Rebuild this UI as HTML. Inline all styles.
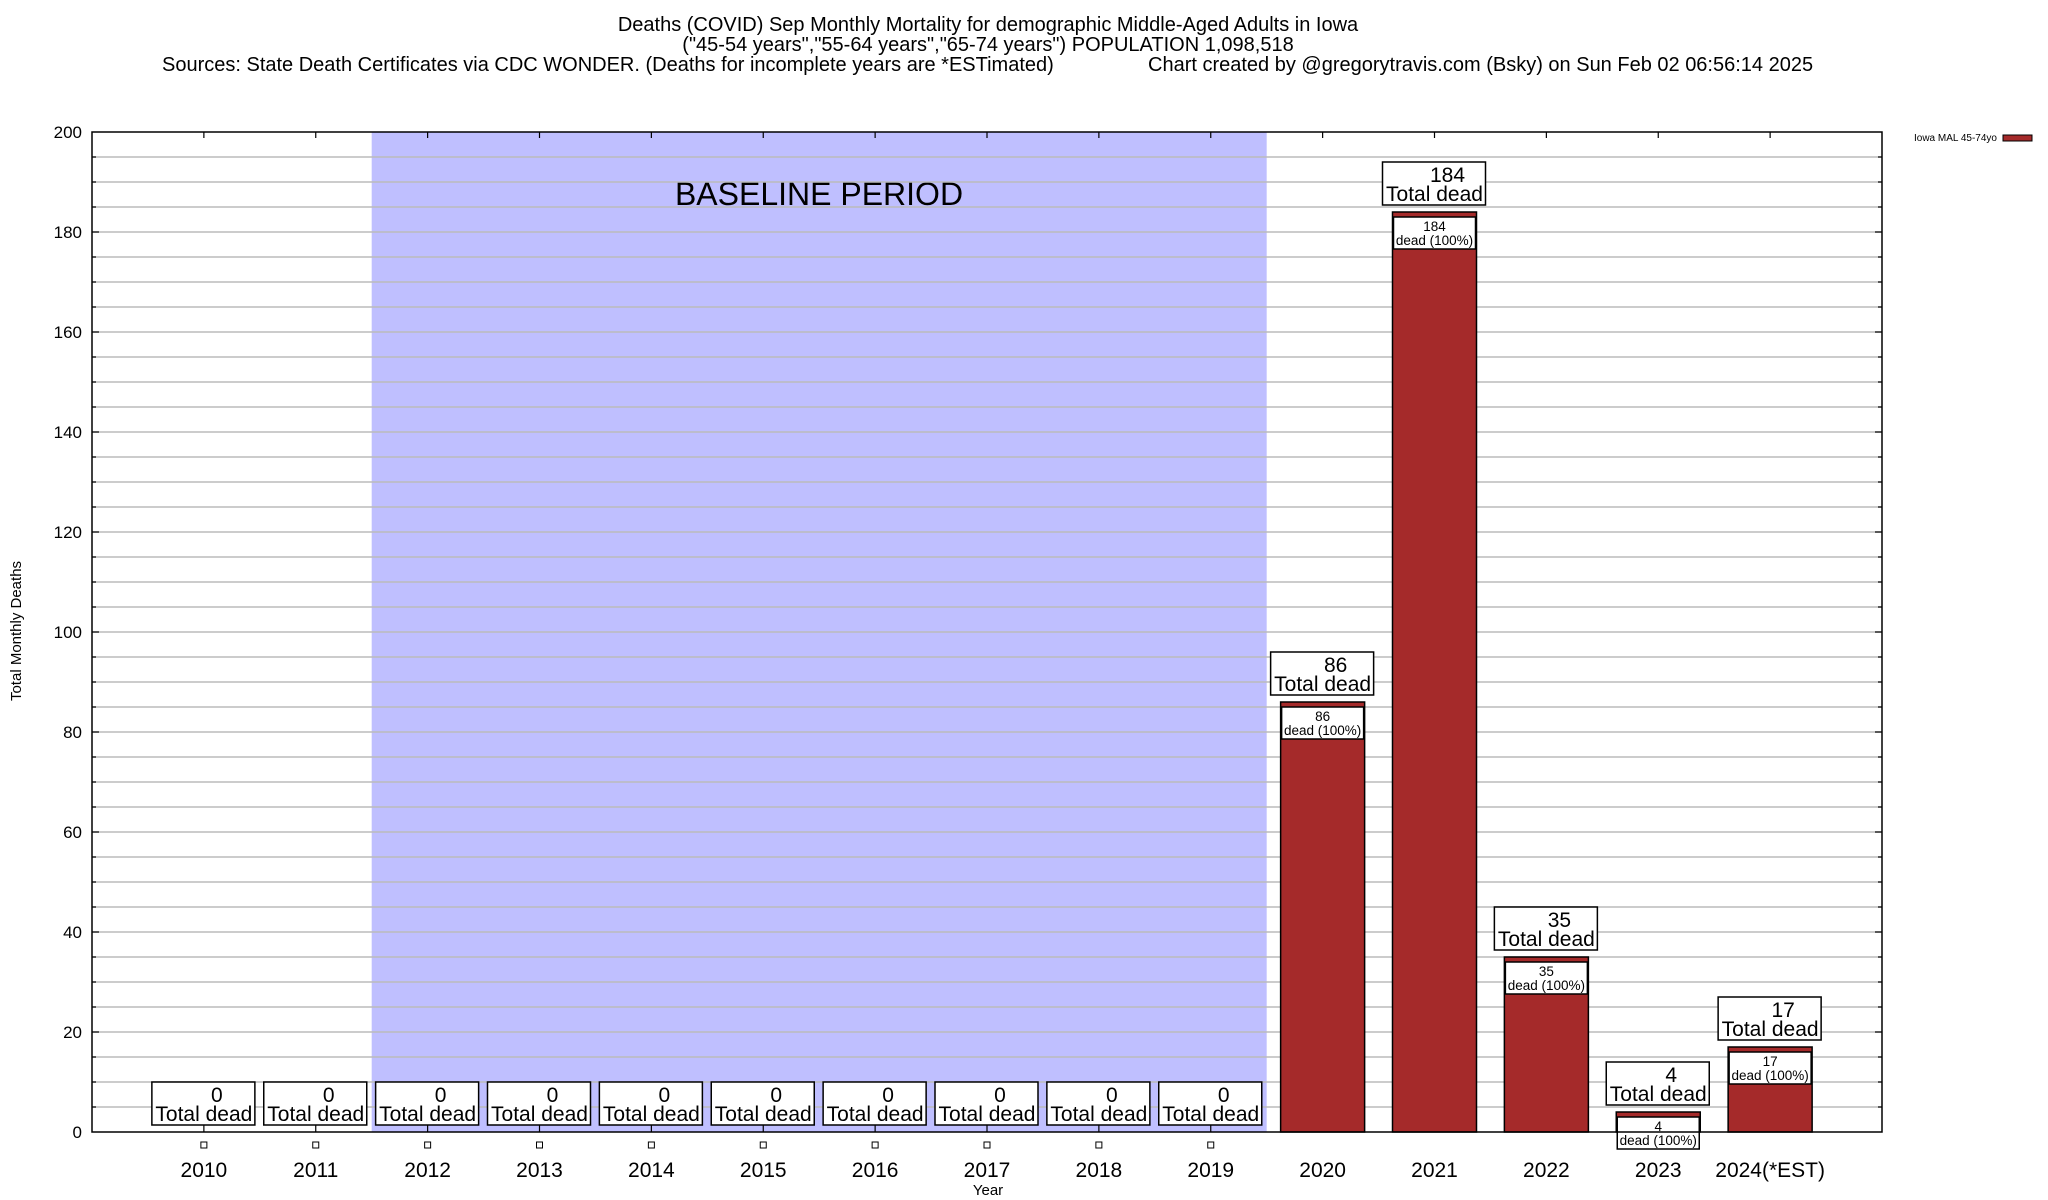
<!DOCTYPE html>
<html><head><meta charset="utf-8"><style>
body{margin:0;background:#fff;}
svg{display:block;font-family:"Liberation Sans",sans-serif;}
</style></head><body>
<svg id="chart" width="2048" height="1200" xmlns="http://www.w3.org/2000/svg"></svg>
<script>
const categories=["2010","2011","2012","2013","2014","2015","2016","2017","2018","2019","2020","2021","2022","2023","2024(*EST)"];
const deaths=[0,0,0,0,0,0,0,0,0,0,86,184,35,4,17];
const yTicks=[0,20,40,60,80,100,120,140,160,180,200];
const baselineRange=[2,9];

const svg=document.getElementById('chart');
const NS="http://www.w3.org/2000/svg";
const L=92,R=1882,T=132,B=1132,slot=(R-L)/16;
const xS=i=>L+slot*(i+1);
const yS=v=>B-(v/200)*(B-T);
function el(tag,attrs,parent,text){const e=document.createElementNS(NS,tag);for(const k in attrs)e.setAttribute(k,attrs[k]);if(text!==undefined)e.textContent=text;(parent||svg).appendChild(e);return e;}

// titles
const titles=el('g',{},svg);


el('text',{x:988,y:31,'font-size':20,'text-anchor':'middle'},titles,'Deaths (COVID) Sep Monthly Mortality for demographic Middle-Aged Adults in Iowa');
el('text',{x:988,y:51,'font-size':20,'text-anchor':'middle'},titles,'("45-54 years","55-64 years","65-74 years") POPULATION 1,098,518');
el('text',{x:162,y:71,'font-size':20},titles,'Sources: State Death Certificates via CDC WONDER. (Deaths for incomplete years are *ESTimated)');
el('text',{x:1148,y:71,'font-size':20},titles,'Chart created by @gregorytravis.com (Bsky) on Sun Feb 02 06:56:14 2025');

// baseline
const bl=el('rect',{x:xS(baselineRange[0])-slot/2,y:T,width:slot*(baselineRange[1]-baselineRange[0]+1),height:B-T,fill:'#bfbfff'});


const blt=el('text',{x:819,y:205,'font-size':32,'text-anchor':'middle'},svg,'BASELINE PERIOD');



// grid
const grid=el('g',{},svg);


for(let v=5;v<200;v+=5){el('line',{x1:L,x2:R,y1:yS(v),y2:yS(v),stroke:'#bbbbbb','stroke-width':1.5},grid);
 const big=v%20===0?7:4;
 el('line',{x1:L,x2:L+big,y1:yS(v),y2:yS(v),stroke:'#000','stroke-width':1.2},grid);
 el('line',{x1:R,x2:R-big,y1:yS(v),y2:yS(v),stroke:'#000','stroke-width':1.2},grid);}

// y labels
yTicks.forEach(v=>{const t=el('text',{x:82,y:yS(v)+6,'font-size':17,'text-anchor':'end'},svg,String(v));

});

// bars
categories.forEach((c,i)=>{
 const cx=xS(i),v=deaths[i];
 el('line',{x1:cx,x2:cx,y1:T,y2:T+6,stroke:'#000','stroke-width':1.2});
 el('line',{x1:cx,x2:cx,y1:B,y2:B-7,stroke:'#000','stroke-width':1.2});
 const lab=el('text',{x:cx,y:1177,'font-size':21,'text-anchor':'middle'},svg,c);
 
 
 const bw=84;
 if(v>0){
  const r=el('rect',{x:cx-bw/2,y:yS(v),width:bw,height:B-yS(v),fill:'#a52a2a',stroke:'#000','stroke-width':1.5});
  
  
 }else{
  const m=el('rect',{x:cx-3,y:1142,width:6,height:6,fill:'#fff',stroke:'#000','stroke-width':1});
  
  
 }
 if(v>0){
  const iy=yS(v)+5;
  const ib=el('rect',{x:cx-41,y:iy,width:82,height:32,fill:'#fff',stroke:'#000','stroke-width':1.5});
  
  
  el('text',{x:cx,y:iy+14,'font-size':13.5,'text-anchor':'middle'},svg,String(v));
  el('text',{x:cx,y:iy+28,'font-size':13.5,'text-anchor':'middle'},svg,'dead (100%)');
 }
 const by=v>0?yS(v)-50:1082;
 const tb=el('rect',{x:cx-52,y:by,width:103,height:43,fill:'#fff',stroke:'#000','stroke-width':1.5});
 
 
 el('text',{x:cx+13,y:by+20,'font-size':21,'text-anchor':'middle'},svg,String(v));
 el('text',{x:cx,y:by+39,'font-size':21,'text-anchor':'middle'},svg,'Total dead');
});

// frame
const fr=el('rect',{x:L,y:T,width:R-L,height:B-T,fill:'none',stroke:'#000','stroke-width':1.5});



const yt=el('text',{x:0,y:0,'font-size':15,'text-anchor':'middle',transform:'translate(21,631) rotate(-90)'},svg,'Total Monthly Deaths');


const xt=el('text',{x:988,y:1195,'font-size':15,'text-anchor':'middle'},svg,'Year');



// legend
const lg=el('g',{},svg);


el('text',{x:1997,y:141,'font-size':10,'text-anchor':'end'},lg,'Iowa MAL 45-74yo');
el('rect',{x:2003,y:135,width:29,height:6,fill:'#a52a2a',stroke:'#000','stroke-width':1},lg);
</script>
</body></html>
